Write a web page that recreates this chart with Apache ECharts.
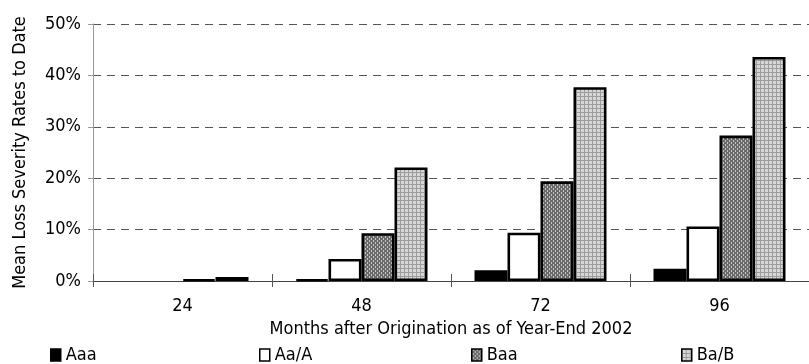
<!DOCTYPE html>
<html><head><meta charset="utf-8">
<script src="https://cdn.jsdelivr.net/npm/echarts@6/dist/echarts.min.js"></script>
<style>html,body{margin:0;padding:0;background:#fff}#c{width:809px;height:364px}</style>
</head><body><div id="c"></div>
<script>
var categories = ['24', '48', '72', '96'];
var seriesNames = ['Aaa', 'Aa/A', 'Baa', 'Ba/B'];
var aaa = [0, 0.3, 2.1, 2.4];
var aaA = [0, 4.3, 9.4, 10.6];
var baa = [0.3, 9.3, 19.4, 28.3];
var baB = [0.8, 22.1, 37.7, 43.6];
var yTicks = [0, 10, 20, 30, 40, 50];
var xTitle = 'Months after Origination as of Year-End 2002';
var yTitle = 'Mean Loss Severity Rates to Date';

var FONT = "'Liberation Sans Narrow', 'Arial Narrow', 'DejaVu Sans Condensed', sans-serif";

function makePattern(w, h, bg, fg, cells) {
  var c = document.createElement('canvas');
  c.width = w; c.height = h;
  var ctx = c.getContext('2d');
  ctx.fillStyle = bg; ctx.fillRect(0, 0, w, h);
  ctx.fillStyle = fg;
  cells.forEach(function (p) { ctx.fillRect(p[0], p[1], 1, 1); });
  return c;
}
var baaCanvas = makePattern(4, 4, '#6a6a6a', '#c4c4c4', [[1,0],[1,1],[3,2],[3,3]]);
var babCanvas = makePattern(4, 4, '#d6d6d6', '#9c9c9c', [[0,0],[1,0],[2,0],[3,0],[0,1],[0,2],[0,3]]);

var fills = ['#000000', '#ffffff', {image: baaCanvas, repeat: 'repeat'}, {image: babCanvas, repeat: 'repeat'}];
var values = [aaa, aaA, baa, baB];

var series = seriesNames.map(function (n, i) {
  return {
    name: n, type: 'bar',
    data: values[i].map(function (v) { return v === 0 ? '-' : v; }),
    barWidth: 33, barGap: '0%',
    itemStyle: {color: fills[i], borderColor: '#000', borderWidth: 2.6},
    emphasis: {disabled: true}, animation: false
  };
});

var legendLeft = [50, 259, 471, 681];
var legends = seriesNames.map(function (n, i) {
  return {
    data: [n], left: legendLeft[i], top: 346, icon: 'rect', itemWidth: 10, itemHeight: 12, itemGap: 3,
    itemStyle: {borderWidth: 1.5},
    textStyle: {fontFamily: FONT, fontSize: 18, color: '#000', padding: [2, 0, 0, 0]},
    selectedMode: false, padding: 0
  };
});

var chart = echarts.init(document.getElementById('c'), null, {renderer: 'canvas'});
chart.setOption({
  animation: false,
  backgroundColor: '#fff',
  legend: legends,
  grid: {left: 93, top: 24, width: 724, height: 257, containLabel: false},
  xAxis: [{
    type: 'category', data: categories, boundaryGap: true,
    axisLine: {lineStyle: {color: '#444', width: 1}},
    axisTick: {show: true, length: 6, lineStyle: {color: '#555'}},
    axisLabel: {fontFamily: FONT, fontSize: 18, color: '#000', margin: 16},
    name: xTitle, nameLocation: 'middle', nameGap: 38,
    nameTextStyle: {fontFamily: FONT, fontSize: 18, color: '#000'}
  }, {
    type: 'category', data: categories, boundaryGap: true, position: 'bottom',
    axisLine: {show: false}, axisLabel: {show: false},
    axisTick: {show: true, inside: true, length: 7, lineStyle: {color: '#555'}}
  }],
  yAxis: {
    type: 'value', min: 0, max: 50, interval: 10,
    axisLine: {show: true, lineStyle: {color: '#999', width: 1}},
    axisTick: {show: true, length: 5, lineStyle: {color: '#999'}},
    axisLabel: {fontFamily: FONT, fontSize: 18, color: '#000', margin: 12,
      formatter: function (v) { return yTicks.indexOf(v) >= 0 ? v + '%' : ''; }},
    splitLine: {show: true, lineStyle: {color: '#555', type: [8, 6], width: 1}},
    name: yTitle, nameLocation: 'middle', nameGap: 64, nameRotate: 90,
    nameTextStyle: {fontFamily: FONT, fontSize: 18, color: '#000'}
  },
  series: series
});
</script></body></html>
